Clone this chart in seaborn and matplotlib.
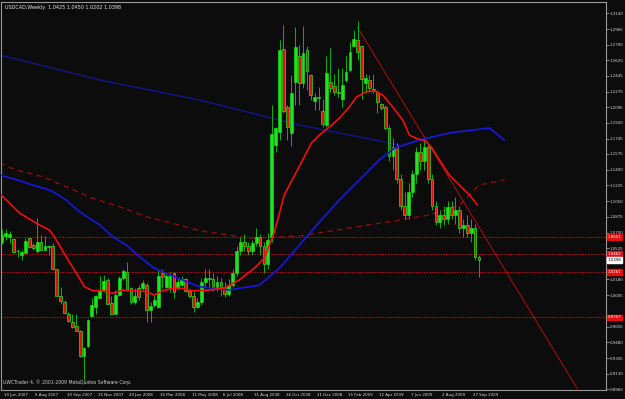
import matplotlib
matplotlib.use("Agg")
import matplotlib.pyplot as plt
import seaborn as sns
import pandas as pd

# ---------------- data (weekly USDCAD, bar 0 = 10 Jun 2007) ----------------
opens = [1.060, 1.066, 1.065, 1.063, 1.050, 1.045, 1.047, 1.064, 1.056, 1.049,
         1.060, 1.051, 1.054, 1.055, 1.029, 1.000, 0.993, 0.980, 0.971, 0.966,
         0.961, 0.933, 0.944, 0.977, 0.987, 0.997, 1.006, 1.017, 0.992, 0.979,
         1.001, 1.019, 1.026, 1.008, 0.993, 1.008, 1.008, 1.012, 0.984, 0.989,
         0.987, 1.025, 1.009, 1.008, 1.025, 1.008, 1.012, 1.018, 1.005, 0.999,
         0.987, 0.993, 1.015, 1.020, 1.018, 1.010, 1.015, 1.010, 1.002, 1.012,
         1.025, 1.050, 1.060, 1.055, 1.050, 1.058, 1.065, 1.055, 1.035, 1.065,
         1.168, 1.182, 1.274, 1.210, 1.181, 1.238, 1.267, 1.236, 1.273, 1.245,
         1.217, 1.221, 1.205, 1.190, 1.238, 1.233, 1.227, 1.219, 1.240, 1.251,
         1.278, 1.284, 1.278, 1.236, 1.240, 1.230, 1.226, 1.213, 1.210, 1.186,
         1.155, 1.165, 1.130, 1.100, 1.090, 1.115, 1.135, 1.160, 1.150, 1.165,
         1.130, 1.100, 1.082, 1.090, 1.085, 1.098, 1.090, 1.095, 1.075, 1.078,
         1.070, 1.075, 1.0425]
highs = [1.074, 1.074, 1.072, 1.064, 1.052, 1.051, 1.064, 1.065, 1.058, 1.086,
         1.067, 1.066, 1.056, 1.058, 1.030, 1.010, 0.995, 0.982, 0.980, 0.980,
         0.962, 0.943, 0.974, 0.997, 1.001, 1.022, 1.023, 1.019, 0.999, 1.006,
         1.022, 1.030, 1.037, 1.010, 1.008, 1.012, 1.017, 1.014, 0.993, 1.001,
         1.028, 1.030, 1.025, 1.026, 1.026, 1.020, 1.022, 1.019, 1.007, 1.005,
         0.997, 1.020, 1.030, 1.030, 1.025, 1.022, 1.020, 1.015, 1.018, 1.030,
         1.055, 1.065, 1.068, 1.060, 1.062, 1.075, 1.068, 1.060, 1.070, 1.212,
         1.188, 1.284, 1.301, 1.212, 1.245, 1.299, 1.279, 1.300, 1.278, 1.247,
         1.225, 1.232, 1.219, 1.266, 1.275, 1.247, 1.253, 1.253, 1.266, 1.282,
         1.296, 1.305, 1.279, 1.247, 1.245, 1.247, 1.229, 1.214, 1.212, 1.190,
         1.175, 1.170, 1.135, 1.115, 1.125, 1.140, 1.165, 1.170, 1.175, 1.170,
         1.135, 1.105, 1.095, 1.100, 1.105, 1.105, 1.110, 1.100, 1.085, 1.090,
         1.085, 1.080, 1.0450]
lows = [1.057, 1.062, 1.058, 1.047, 1.043, 1.040, 1.047, 1.053, 1.051, 1.047,
        1.049, 1.049, 1.045, 1.028, 0.999, 0.991, 0.980, 0.971, 0.964, 0.960,
        0.932, 0.906, 0.943, 0.976, 0.980, 0.997, 1.004, 0.991, 0.979, 0.979,
        0.999, 1.017, 1.005, 0.991, 0.991, 0.995, 1.006, 0.971, 0.971, 0.987,
        0.986, 1.008, 1.008, 1.004, 0.997, 1.006, 1.011, 1.004, 0.997, 0.982,
        0.986, 0.990, 1.010, 1.010, 1.005, 1.005, 1.000, 0.998, 1.000, 1.010,
        1.022, 1.045, 1.050, 1.045, 1.045, 1.055, 1.045, 1.025, 1.030, 1.060,
        1.160, 1.173, 1.203, 1.173, 1.166, 1.212, 1.212, 1.231, 1.229, 1.218,
        1.206, 1.206, 1.188, 1.188, 1.227, 1.223, 1.221, 1.210, 1.238, 1.249,
        1.277, 1.262, 1.219, 1.225, 1.227, 1.225, 1.203, 1.206, 1.184, 1.150,
        1.140, 1.125, 1.095, 1.085, 1.085, 1.110, 1.125, 1.140, 1.140, 1.125,
        1.095, 1.078, 1.075, 1.078, 1.080, 1.085, 1.080, 1.070, 1.065, 1.065,
        1.060, 1.040, 1.0202]
closes = [1.067, 1.070, 1.068, 1.048, 1.049, 1.048, 1.061, 1.054, 1.053, 1.060,
          1.051, 1.055, 1.055, 1.029, 1.000, 0.994, 0.981, 0.972, 0.965, 0.961,
          0.933, 0.942, 0.973, 0.990, 0.999, 1.006, 1.016, 0.991, 0.980, 1.001,
          1.019, 1.027, 1.006, 0.993, 1.000, 0.998, 1.014, 0.984, 0.988, 0.995,
          1.022, 1.021, 1.022, 1.023, 1.004, 1.015, 1.018, 1.005, 0.999, 0.987,
          0.993, 1.015, 1.020, 1.018, 1.010, 1.015, 1.010, 1.002, 1.012, 1.025,
          1.050, 1.060, 1.055, 1.050, 1.058, 1.065, 1.055, 1.035, 1.062, 1.180,
          1.186, 1.273, 1.205, 1.188, 1.225, 1.277, 1.236, 1.270, 1.250, 1.223,
          1.221, 1.220, 1.191, 1.248, 1.231, 1.226, 1.225, 1.234, 1.249, 1.271,
          1.285, 1.271, 1.241, 1.242, 1.231, 1.229, 1.215, 1.209, 1.186, 1.155,
          1.165, 1.130, 1.100, 1.090, 1.115, 1.135, 1.160, 1.150, 1.165, 1.130,
          1.100, 1.082, 1.090, 1.085, 1.098, 1.090, 1.095, 1.075, 1.078, 1.070,
          1.075, 1.043, 1.0398]

# moving averages (bar index, price)
ma_fast_bar = [-0.6, 4.5, 8.7, 12.1, 13.4, 16.4, 19.0, 21.1, 23.2, 26.6, 28.3, 30.9,
               33.5, 36.9, 39.0, 41.1, 43.7, 46.2, 48.4, 50.5, 53.1, 56.9, 60.7,
               64.6, 67.1, 69.7, 72.2, 76.9, 79.1, 81.2, 83.8, 86.3, 88.9, 90.6,
               93.1, 95.3, 97.4, 99.9, 102.5, 104.2, 105.9, 108.1, 109.8, 111.9,
               114.4, 117.0, 119.6, 121.6]
ma_fast_val = [1.1137, 1.0918, 1.0807, 1.0729, 1.0654, 1.0432, 1.0251, 1.0098,
               1.0054, 1.0050, 1.0025, 1.0061, 1.0054, 1.0043, 1.0006, 1.0054,
               1.0080, 1.0080, 1.0054, 1.0054, 1.0061, 1.0084, 1.0173, 1.0306,
               1.0417, 1.0707, 1.1118, 1.1508, 1.1694, 1.1786, 1.1878, 1.1972,
               1.2101, 1.2205, 1.2268, 1.2276, 1.2231, 1.2101, 1.1953, 1.1786,
               1.1749, 1.1723, 1.1656, 1.1508, 1.1341, 1.1230, 1.1118, 1.1007]
ma_mid_bar = [-0.6, 4.5, 7.8, 12.6, 16.4, 19.8, 25.0, 28.3, 31.8, 35.2, 38.6, 42.0,
              46.2, 50.5, 58.2, 65.9, 71.0, 76.1, 81.2, 86.3, 91.4, 96.5, 100.4,
              106.8, 114.4, 124.7, 128.5]
ma_mid_val = [1.1341, 1.1278, 1.1230, 1.1167, 1.1063, 1.0933, 1.0785, 1.0655,
              1.0562, 1.0432, 1.0314, 1.0247, 1.0173, 1.0098, 1.0062, 1.0117,
              1.0306, 1.0562, 1.0818, 1.1063, 1.1285, 1.1508, 1.1641, 1.1730,
              1.1808, 1.1864, 1.1730]
ma_slow_bar = [-0.6, 3.6, 10.4, 16.4, 23.2, 30.0, 36.9, 43.7, 50.5, 63.3, 76.1,
               88.9, 101.7, 109.3, 117.0, 122.1, 128.5]
ma_slow_val = [1.1474, 1.1397, 1.1322, 1.1211, 1.1082, 1.0988, 1.0877, 1.0803,
               1.0721, 1.0640, 1.0662, 1.0751, 1.0840, 1.0896, 1.1007, 1.1230,
               1.1286]
ma_long_bar = [-0.6, 25.0, 50.5, 76.1, 101.7]
ma_long_val = [1.2676, 1.2398, 1.2175, 1.1897, 1.1675]

trend_bar = [90.9, 147.2]
trend_val = [1.2988, 0.8960]

levels = [1.0651, 1.0462, 1.0261, 0.9757]
bid = 1.0398

price_ticks = [1.3140, 1.2965, 1.2790, 1.2620, 1.2445, 1.2270, 1.2095, 1.1920,
               1.1745, 1.1575, 1.1400, 1.1225, 1.1050, 1.0875, 1.0700, 1.0525,
               1.0180, 1.0005, 0.9655, 0.9480, 0.9305, 0.9130, 0.8960]
date_bars = [0, 8, 16, 24, 32, 40, 48, 56, 64, 72, 80, 88, 96, 104, 112, 120]
date_labels = ["10 Jun 2007", "5 Aug 2007", "30 Sep 2007", "25 Nov 2007",
               "20 Jan 2008", "16 Mar 2008", "11 May 2008", "6 Jul 2008",
               "31 Aug 2008", "26 Oct 2008", "21 Dec 2008", "15 Feb 2009",
               "12 Apr 2009", "7 Jun 2009", "2 Aug 2009", "27 Sep 2009"]
title = "USDCAD,Weekly  1.0425 1.0450 1.0202 1.0398"
footer = "UWCTrader 4, \u00a9 2001-2009 MetaQuotes Software Corp."

# ---------------- drawing ----------------
sns.set_theme(style="dark")
plt.rcParams['font.family'] = ['DejaVu Sans']
BG = '#0b0c0b'
BULL = '#1ee61e'
WICK = '#12b012'
BEAR = '#e01010'
FS = 2.9

fig = plt.figure(figsize=(6.25, 3.99), dpi=100, facecolor=BG)
ax = fig.add_axes([1/625, 9/399, 605/625, 388/399])
ax.set_facecolor(BG)
ax.set_xlim(-0.25, 154.5)
ax.set_ylim(0.8949, 1.3266)

df = pd.DataFrame({'bar': range(len(opens)), 'o': opens, 'h': highs,
                   'l': lows, 'c': closes})
up = df[df.c >= df.o]
dn = df[df.c < df.o]
ax.vlines(df.bar, df.l, df.h, color=WICK, lw=0.7, zorder=3)
minh = 0.0008
ax.bar(up.bar, (up.c - up.o).clip(lower=minh), bottom=up.o, width=0.72,
       color=BULL, edgecolor=BULL, lw=0.4, zorder=4)
ax.bar(dn.bar, (dn.o - dn.c).clip(lower=minh), bottom=dn.c, width=0.72,
       color=BEAR, edgecolor=BULL, lw=0.5, zorder=4)

sns.lineplot(x=ma_long_bar, y=ma_long_val, ax=ax, color='#14148c', lw=1.0, zorder=2)
sns.lineplot(x=ma_slow_bar, y=ma_slow_val, ax=ax, color='#8a0d0d', lw=1.0,
             linestyle=(0, (4, 3)), zorder=2)
sns.lineplot(x=ma_mid_bar, y=ma_mid_val, ax=ax, color='#1818e0', lw=1.2, zorder=5)
sns.lineplot(x=ma_fast_bar, y=ma_fast_val, ax=ax, color='#ee1111', lw=1.2, zorder=5)

# trend line (segment from the March 2009 top downward)
ax.plot(trend_bar, trend_val, color='#b01010', lw=0.7, zorder=2, clip_on=True)

for lv in levels:
    ax.axhline(lv, color='#a81010', lw=0.8, linestyle=(0, (1.5, 1)), zorder=1)

# axes styling
for s in ax.spines.values():
    s.set_color('#9a9a9a')
    s.set_linewidth(0.8)
ax.grid(False)
ax.yaxis.tick_right()
ax.set_yticks(price_ticks)
ax.set_yticklabels([f"{t:.4f}" for t in price_ticks])
ax.tick_params(axis='y', colors='#9a9a9a', labelcolor='#d8d8d8', labelsize=FS,
               length=2, width=0.6, pad=0.8)
ax.set_xticks(date_bars)
ax.set_xticklabels([])
ax.tick_params(axis='x', colors='#9a9a9a', length=3, width=0.6)
for b, lab in zip(date_bars, date_labels):
    ax.annotate(lab, xy=(b, 0), xycoords=('data', 'axes fraction'),
                xytext=(1.5, -2.5), textcoords='offset points', ha='left',
                va='top', fontsize=FS, color='#d8d8d8', annotation_clip=False)

# price boxes on right scale
for lv in levels:
    ax.annotate(f"{lv:.4f}", xy=(1, lv), xycoords=('axes fraction', 'data'),
                xytext=(1.0, 0), textcoords='offset points', ha='left',
                va='center', fontsize=FS, color='white', annotation_clip=False,
                bbox=dict(boxstyle='square,pad=0.2', fc='#e01010', ec='#e01010'))
ax.annotate(f"{bid:.4f}", xy=(1, bid), xycoords=('axes fraction', 'data'),
            xytext=(1.0, 0), textcoords='offset points', ha='left', va='center',
            fontsize=FS, color='black', annotation_clip=False,
            bbox=dict(boxstyle='square,pad=0.2', fc='white', ec='white'))

ax.text(0.006, 0.992, title, transform=ax.transAxes, ha='left', va='top',
        fontsize=3.5, color='#e8e8e8')
ax.text(0.003, 0.012, footer, transform=ax.transAxes, ha='left', va='bottom',
        fontsize=3.3, color='#d0d0d0')
ax.set_xlabel('')
ax.set_ylabel('')

fig.savefig('out.png', dpi=100, facecolor=BG)
